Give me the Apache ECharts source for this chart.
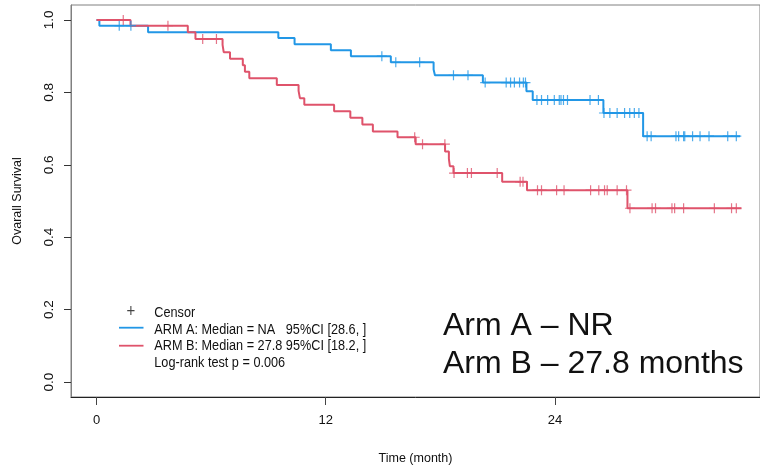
<!DOCTYPE html>
<html>
<head>
<meta charset="utf-8">
<script src="https://cdn.jsdelivr.net/npm/echarts@6/dist/echarts.min.js"></script>
<style>
  html, body { margin: 0; padding: 0; background: #fff; }
  #chart { width: 760px; height: 470px; }
</style>
</head>
<body>
<div id="chart"></div>
<script>
// Kaplan-Meier values (months, survival after each drop)
const armATimes = [0.15, 2.70, 9.52, 10.37, 12.27, 13.32, 15.41, 17.65, 17.72, 20.23, 22.51, 22.84, 26.54, 28.62];
const armASurv  = [0.984, 0.966, 0.950, 0.933, 0.916, 0.900, 0.883, 0.863, 0.847, 0.827, 0.803, 0.779, 0.743, 0.679];
const armACensor = [1.19, 1.80, 14.94, 15.67, 16.92, 18.69, 19.45, 20.35, 21.45, 21.68, 21.88, 22.15, 22.35, 22.46,
  23.06, 23.30, 23.62, 23.97, 24.23, 24.32, 24.45, 24.66, 25.84, 26.28, 26.57, 26.88, 27.26, 27.65, 27.92, 28.16,
  28.40, 28.83, 29.04, 30.34, 30.48, 30.74, 30.80, 31.21, 31.60, 32.07, 33.05, 33.50];
const armAEnd = 33.70;

const armBTimes = [1.78, 4.78, 5.18, 6.60, 6.66, 6.99, 7.66, 7.77, 8.00, 9.44, 10.58, 10.65, 10.88, 12.44, 13.29,
  13.92, 14.47, 15.76, 16.71, 18.25, 18.45, 18.50, 18.69, 21.24, 22.54, 27.80];
const armBSurv  = [0.984, 0.966, 0.947, 0.931, 0.911, 0.893, 0.875, 0.857, 0.839, 0.820, 0.804, 0.784, 0.766, 0.748, 0.730,
  0.711, 0.692, 0.676, 0.657, 0.637, 0.616, 0.596, 0.577, 0.553, 0.530, 0.480];
const armBCensor = [1.40, 3.74, 5.56, 6.28, 16.66, 17.07, 18.24, 18.72, 19.42, 19.63, 20.98, 22.18, 22.33, 23.09, 23.30,
  24.09, 24.48, 25.87, 26.30, 26.60, 26.74, 27.26, 27.75, 27.93, 29.09, 29.27, 30.13, 30.27, 30.74, 32.35, 33.25, 33.50];
const armBEnd = 33.77;

const xTicks = [0, 12, 24];
const yTicks = [0, 0.2, 0.4, 0.6, 0.8, 1.0];

const legendLines = [
  'Censor',
  'ARM A: Median = NA   95%CI [28.6, ]',
  'ARM B: Median = 27.8 95%CI [18.2, ]',
  'Log-rank test p = 0.006'
];
const noteLines = ['Arm A \u2013 NR', 'Arm B \u2013 27.8 months'];

const colorA = '#2297E6';
const colorB = '#DF536B';
const font = 'Liberation Sans, Arial, sans-serif';

function stepPath(times, surv, end) {
  const pts = [[0, 1]];
  let prev = 1;
  times.forEach((t, i) => {
    pts.push([t, prev]);
    pts.push([t, surv[i]]);
    prev = surv[i];
  });
  pts.push([end, prev]);
  return pts;
}

function survAt(times, surv, t) {
  let s = 1;
  times.forEach((tt, i) => { if (tt <= t) s = surv[i]; });
  return s;
}

function censorPoints(times, surv, cens) {
  return cens.map(t => [t, survAt(times, surv, t)]);
}

const plusSymbol = 'path://M-0.12,-1H0.12V-0.12H1V0.12H0.12V1H-0.12V0.12H-1V-0.12H-0.12Z';

const chart = echarts.init(document.getElementById('chart'));

const option = {
  animation: false,
  backgroundColor: '#fff',
  grid: {
    left: 71,
    top: 5,
    right: -5,
    bottom: 70,
    show: true,
    borderColor: '#808080',
    borderWidth: 1
  },
  xAxis: {
    type: 'value',
    min: -1.336,
    max: 34.74,
    name: 'Time (month)',
    nameLocation: 'middle',
    nameGap: 55,
    nameTextStyle: { fontSize: 12.5, color: '#111', fontFamily: font },
    axisLine: { onZero: false, lineStyle: { color: '#222', width: 1 } },
    axisTick: { customValues: xTicks, length: 8, lineStyle: { color: '#444' } },
    axisLabel: {
      customValues: xTicks,
      margin: 17,
      fontSize: 13,
      color: '#111',
      fontFamily: font
    },
    splitLine: { show: false }
  },
  yAxis: {
    type: 'value',
    min: -0.0412,
    max: 1.0412,
    name: 'Ovarall Survival',
    nameLocation: 'middle',
    nameGap: 47,
    nameTextStyle: { fontSize: 12.5, color: '#111', fontFamily: font },
    axisLine: { onZero: false, lineStyle: { color: '#808080' } },
    axisTick: { customValues: yTicks, length: 7, lineStyle: { color: '#333' } },
    axisLabel: {
      customValues: yTicks,
      rotate: 90,
      margin: 15,
      fontSize: 13.5,
      color: '#111',
      fontFamily: font,
      formatter: v => v.toFixed(1)
    },
    splitLine: { show: false }
  },
  series: [
    {
      name: 'ARM A',
      type: 'line',
      data: stepPath(armATimes, armASurv, armAEnd),
      showSymbol: false,
      symbol: 'none',
      lineStyle: { color: colorA, width: 2 },
      z: 3
    },
    {
      name: 'ARM B',
      type: 'line',
      data: stepPath(armBTimes, armBSurv, armBEnd),
      showSymbol: false,
      symbol: 'none',
      lineStyle: { color: colorB, width: 2 },
      z: 3
    },
    {
      name: 'ARM A censor',
      type: 'scatter',
      data: censorPoints(armATimes, armASurv, armACensor),
      symbol: plusSymbol,
      symbolSize: 10,
      itemStyle: { color: colorA },
      z: 4
    },
    {
      name: 'ARM B censor',
      type: 'scatter',
      data: censorPoints(armBTimes, armBSurv, armBCensor),
      symbol: plusSymbol,
      symbolSize: 10,
      itemStyle: { color: colorB },
      z: 4
    }
  ],
  graphic: [
    // legend
    {
      type: 'text', x: 131, y: 311.7, scaleY: 1.2,
      style: { text: '+', fontSize: 15, fill: '#444', align: 'center', verticalAlign: 'middle', fontFamily: font }
    },
    { type: 'line', shape: { x1: 119, y1: 327.7, x2: 143.5, y2: 327.7 }, style: { stroke: colorA, lineWidth: 1.8 } },
    { type: 'line', shape: { x1: 119, y1: 345.7, x2: 143.5, y2: 345.7 }, style: { stroke: colorB, lineWidth: 1.8 } },
    ...legendLines.map((t, i) => ({
      type: 'text', x: 154.3, y: 312.7 + i * 16.7, scaleY: 1.2,
      style: { text: t, fontSize: 12.7, fill: '#111', verticalAlign: 'middle', fontFamily: font }
    })),
    // annotation
    ...noteLines.map((t, i) => ({
      type: 'text', x: 443, y: 326 + i * 38.5,
      style: { text: t, fontSize: 32, fill: '#111', verticalAlign: 'middle', fontFamily: font }
    }))
  ]
};

chart.setOption(option);
</script>
</body>
</html>
